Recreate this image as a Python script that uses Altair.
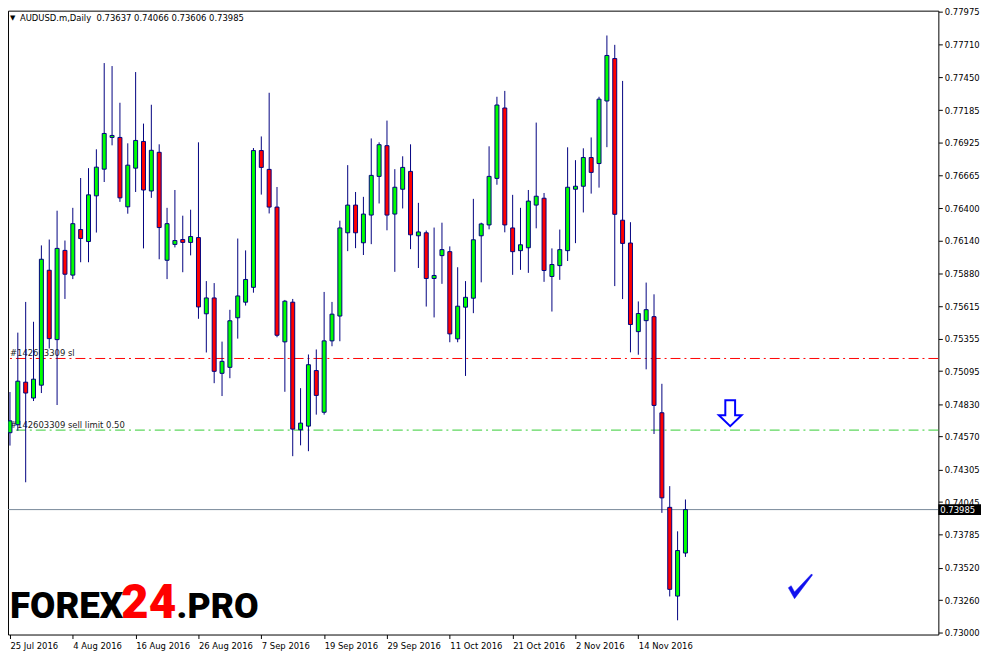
import altair as alt
import pandas as pd

# ---- data (AUDUSD.m, Daily) ----
opens = [0.74601, 0.74665, 0.75006, 0.74879, 0.74982, 0.75903, 0.75347, 0.76062, 0.75864, 0.76229,
         0.76133, 0.76499, 0.76713, 0.76967, 0.76967, 0.76411, 0.76721, 0.76935, 0.76538, 0.76848,
         0.75983, 0.76110, 0.76149, 0.76126, 0.76165, 0.75554, 0.75681, 0.75077, 0.75125, 0.75522,
         0.75647, 0.75766, 0.76862, 0.76711, 0.76409, 0.75329, 0.75647, 0.74625, 0.74654, 0.75099,
         0.74765, 0.75337, 0.75536, 0.76203, 0.76425, 0.76123, 0.76345, 0.76655, 0.76901, 0.76353,
         0.76552, 0.76695, 0.76179, 0.76203, 0.75837, 0.76020, 0.76052, 0.75353, 0.75607, 0.75679,
         0.76179, 0.76266, 0.76639, 0.77203, 0.76242, 0.76060, 0.76083, 0.76425, 0.76480, 0.75853,
         0.75940, 0.76060, 0.76552, 0.76576, 0.76806, 0.76758, 0.77259, 0.77599, 0.76304, 0.76121,
         0.75411, 0.75499, 0.75531, 0.74761, 0.74003, 0.73292, 0.73637]
highs = [0.74927, 0.75403, 0.75649, 0.75490, 0.76102, 0.76149, 0.76380, 0.76141, 0.76403, 0.76642,
         0.76721, 0.76872, 0.77563, 0.77539, 0.77245, 0.76920, 0.77491, 0.77078, 0.77229, 0.76912,
         0.76403, 0.76546, 0.76340, 0.76388, 0.76928, 0.75816, 0.75800, 0.75331, 0.75586, 0.76157,
         0.76062, 0.76882, 0.76975, 0.77325, 0.76570, 0.75665, 0.75673, 0.74958, 0.75228, 0.75268,
         0.75729, 0.75649, 0.76300, 0.76745, 0.76530, 0.76491, 0.76959, 0.76928, 0.77102, 0.76713,
         0.76816, 0.76912, 0.76443, 0.76221, 0.76245, 0.76284, 0.76094, 0.75927, 0.75816, 0.76475,
         0.76284, 0.76896, 0.77293, 0.77340, 0.76507, 0.76403, 0.76546, 0.77086, 0.76522, 0.76078,
         0.76229, 0.76888, 0.76785, 0.76880, 0.76967, 0.77293, 0.77784, 0.77709, 0.77420, 0.76288,
         0.75653, 0.75804, 0.75710, 0.74993, 0.74173, 0.73811, 0.74066]
lows = [0.74498, 0.74617, 0.74204, 0.74855, 0.74919, 0.75276, 0.74823, 0.75673, 0.75832, 0.75967,
        0.75967, 0.76205, 0.76610, 0.76904, 0.76451, 0.76356, 0.76530, 0.76078, 0.76483, 0.75991,
        0.75832, 0.76086, 0.75887, 0.76022, 0.75514, 0.75244, 0.74998, 0.74895, 0.75038, 0.75355,
        0.75620, 0.75723, 0.76509, 0.76358, 0.75366, 0.74929, 0.74413, 0.74500, 0.74453, 0.74746,
        0.74746, 0.75294, 0.75334, 0.76056, 0.76080, 0.76025, 0.76112, 0.76438, 0.76223, 0.75890,
        0.76398, 0.76072, 0.75921, 0.75612, 0.75525, 0.75794, 0.75326, 0.75326, 0.75056, 0.75559,
        0.75806, 0.76231, 0.76588, 0.76207, 0.75866, 0.75906, 0.75882, 0.76239, 0.75810, 0.75572,
        0.75826, 0.75977, 0.76120, 0.76366, 0.76517, 0.76565, 0.76889, 0.75776, 0.75672, 0.75245,
        0.75226, 0.75109, 0.74591, 0.73959, 0.73289, 0.73098, 0.73606]
closes = [0.74696, 0.75014, 0.74919, 0.75030, 0.75991, 0.75355, 0.76078, 0.75871, 0.76276, 0.76157,
          0.76507, 0.76729, 0.76999, 0.76983, 0.76483, 0.76745, 0.76943, 0.76546, 0.76864, 0.76245,
          0.76276, 0.76141, 0.76126, 0.76173, 0.75609, 0.75681, 0.75093, 0.75173, 0.75498, 0.75697,
          0.75829, 0.76862, 0.76727, 0.76409, 0.75382, 0.75655, 0.74630, 0.74678, 0.75146, 0.74900,
          0.75337, 0.75551, 0.76242, 0.76425, 0.76203, 0.76353, 0.76663, 0.76909, 0.76345, 0.76568,
          0.76727, 0.76187, 0.76210, 0.75837, 0.75861, 0.76068, 0.75393, 0.75615, 0.75686, 0.76147,
          0.76274, 0.76655, 0.77227, 0.76266, 0.76052, 0.76107, 0.76457, 0.76496, 0.75901, 0.75949,
          0.76068, 0.76568, 0.76576, 0.76806, 0.76687, 0.77274, 0.77624, 0.76351, 0.76118, 0.75468,
          0.75556, 0.75587, 0.74820, 0.74079, 0.73346, 0.73657, 0.73985]

date_ticks = [0, 8, 16, 24, 32, 40, 48, 56, 64, 72, 80]
date_labels = ["25 Jul 2016", "4 Aug 2016", "16 Aug 2016", "26 Aug 2016", "7 Sep 2016",
               "19 Sep 2016", "29 Sep 2016", "11 Oct 2016", "21 Oct 2016", "2 Nov 2016", "14 Nov 2016"]
price_ticks = [0.77975, 0.77710, 0.77450, 0.77185, 0.76925, 0.76665, 0.76400, 0.76140, 0.75880,
               0.75615, 0.75355, 0.75095, 0.74830, 0.74570, 0.74305, 0.74045, 0.73785, 0.73520,
               0.73260, 0.73000]

sl_price = 0.75196
limit_price = 0.74622
last_price = 0.73985
sl_text = "#142603309 sl"
limit_text = "#142603309 sell limit 0.50"
header_text = "AUDUSD.m,Daily\u00a0\u00a00.73637 0.74066 0.73606 0.73985"
arrow_pos = (91.7, 0.74757)
check_pos = (100.6, 0.73370)

FONT = "DejaVu Sans"
NAVY = "#000080"
UP, DOWN = "#00FF00", "#FF0000"

n = len(opens)
df = pd.DataFrame({"i": list(range(n)), "open": opens, "high": highs, "low": lows, "close": closes})
df["fill"] = [UP if c >= o else DOWN for o, c in zip(opens, closes)]

xscale = alt.Scale(domain=[-0.25, 118.2], nice=False, zero=False, padding=0)
yscale = alt.Scale(domain=[0.72984, 0.77983], nice=False, zero=False, padding=0)

label_expr = "[" + ",".join("'" + s + "'" for s in date_labels) + "][datum.value / 8]"

xaxis = alt.Axis(values=date_ticks, labelExpr=label_expr, title=None, grid=False,
                 domain=False, tickSize=4, tickColor="black", labelAlign="left",
                 labelBaseline="top", labelPadding=3, labelFont=FONT, labelFontSize=8.5,
                 labelColor="black", labelOverlap=False, labelFlush=False, labelBound=False)
yaxis = alt.Axis(orient="right", values=price_ticks, format=".5f", title=None, grid=False,
                 domain=False, tickSize=4, tickColor="black", labelPadding=2,
                 labelFont=FONT, labelFontSize=8.5, labelColor="black",
                 labelOverlap=False, labelFlush=False, labelBound=False)

X = lambda f: alt.X(f, scale=xscale, axis=xaxis)
Y = lambda f: alt.Y(f, scale=yscale, axis=yaxis)

base = alt.Chart(df)

wicks = base.mark_rule(color=NAVY, strokeWidth=1, clip=True).encode(
    x=X("i:Q"), y=Y("low:Q"), y2="high:Q")

bodies = base.mark_bar(size=4, stroke=NAVY, strokeWidth=1, clip=True).encode(
    x=X("i:Q"), y=Y("open:Q"), y2="close:Q",
    color=alt.Color("fill:N", scale=None))

lines_df = pd.DataFrame({"p": [sl_price, limit_price], "col": ["#FF0000", "#33CC33"],
                         "t": [sl_text, limit_text]})
order_lines = alt.Chart(lines_df).mark_rule(strokeWidth=1, strokeDash=[10, 4, 2, 4]).encode(
    y=Y("p:Q"), color=alt.Color("col:N", scale=None))
order_labels = alt.Chart(lines_df).mark_text(align="left", baseline="alphabetic", dy=-2,
                                             font=FONT, fontSize=8.5, color="#222222").encode(
    x=alt.value(2), y=Y("p:Q"), text="t:N")

last_df = pd.DataFrame({"p": [last_price], "t": [f"{last_price:.5f}"]})
last_line = alt.Chart(last_df).mark_rule(color="#778899", strokeWidth=1).encode(y=Y("p:Q"))
last_box = alt.Chart(last_df).mark_rule(color="black", strokeWidth=11).encode(
    x=alt.value(938), x2=alt.value(985), y=Y("p:Q"))
last_txt = alt.Chart(last_df).mark_text(align="left", baseline="middle", color="white",
                                        font=FONT, fontSize=8.5).encode(
    x=alt.value(940), y=Y("p:Q"), text="t:N")

header = alt.Chart(pd.DataFrame({"t": [header_text]})).mark_text(
    align="left", baseline="middle", font=FONT, fontSize=8.5, color="black").encode(
    x=alt.value(12), y=alt.value(7), text="t:N")
tri = alt.Chart(pd.DataFrame({"t": ["\u25bc"]})).mark_text(
    align="left", baseline="middle", font=FONT, fontSize=7, color="black").encode(
    x=alt.value(2), y=alt.value(7), text="t:N")

logo1 = alt.Chart(pd.DataFrame({"t": ["FOREX"]})).mark_text(
    align="left", baseline="alphabetic", font="Roboto", fontWeight=900, fontSize=37,
    color="black").encode(x=alt.value(2), y=alt.value(612), text="t:N")
logo2 = alt.Chart(pd.DataFrame({"t": ["24"]})).mark_text(
    align="left", baseline="alphabetic", font="Roboto", fontWeight=900, fontSize=48,
    color="#FF0000").encode(x=alt.value(114), y=alt.value(612), text="t:N")
logo3 = alt.Chart(pd.DataFrame({"t": [".PRO"]})).mark_text(
    align="left", baseline="alphabetic", font="Roboto", fontWeight=900, fontSize=36,
    color="black").encode(x=alt.value(170), y=alt.value(612), text="t:N")

ARROW = "M -0.38 -1 L 0.38 -1 L 0.38 0.15 L 0.88 0.15 L 0 1 L -0.88 0.15 L -0.38 0.15 Z"
CHECK = "M -0.95 0.12 L -0.72 -0.05 L -0.45 0.45 L 0.92 -1 L 1 -0.92 L -0.45 1 Z"

arrow = alt.Chart(pd.DataFrame({"i": [arrow_pos[0]], "p": [arrow_pos[1]]})).mark_point(
    shape=ARROW, size=676, filled=False, stroke="#0000FF", strokeWidth=2, opacity=1).encode(
    x=X("i:Q"), y=Y("p:Q"))
check = alt.Chart(pd.DataFrame({"i": [check_pos[0]], "p": [check_pos[1]]})).mark_point(
    shape=CHECK, size=625, filled=True, fill="#1010EE", stroke="#1010EE", strokeWidth=0.5,
    opacity=1).encode(x=X("i:Q"), y=Y("p:Q"))

chart = alt.layer(
    last_line, order_lines, order_labels, wicks, bodies, header, tri,
    logo1, logo2, logo3, arrow, check, last_box, last_txt
).properties(
    width=938, height=629,
    autosize=alt.AutoSizeParams(type="none"),
    padding={"left": 0, "top": 0, "right": 43, "bottom": 22},
    background="white",
).configure_view(stroke="black", strokeWidth=1)

chart.save("out.html", embed_options={"renderer": "svg", "actions": False})
